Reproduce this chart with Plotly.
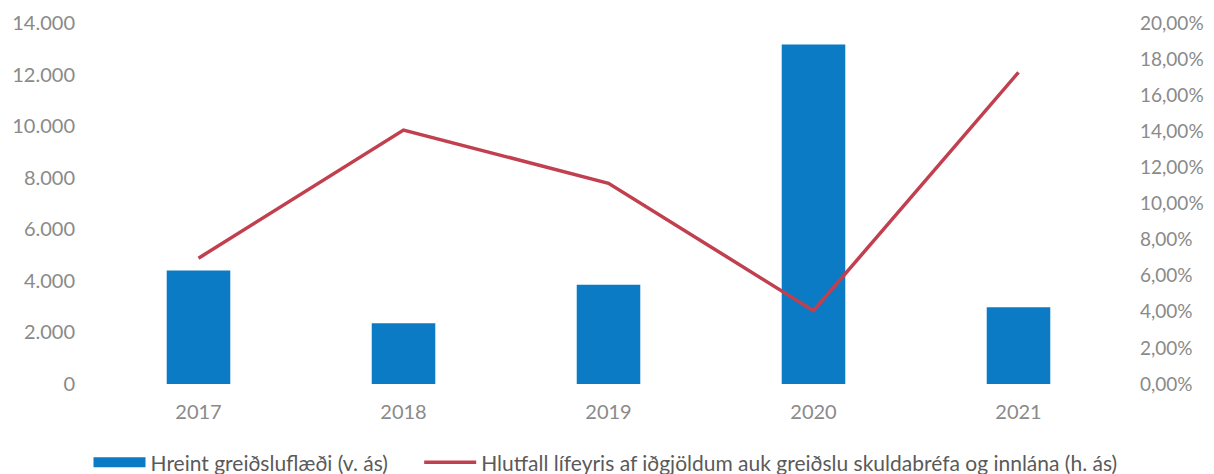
import plotly.graph_objects as go

years = ["2017", "2018", "2019", "2020", "2021"]
cashflow = [4400, 2360, 3850, 13170, 2980]
pension_ratio = [0.0697, 0.1407, 0.1112, 0.0406, 0.1727]

bar_name = "Hreint greiðsluflæði (v. ás)"
line_name = "Hlutfall lífeyris af iðgjöldum auk greiðslu skuldabréfa og innlána (h. ás)"

FONT = "Lato, Open Sans, sans-serif"
GRAY = "#8a8a8a"
LEG = "#5a5a5a"
BLUE = "#0A7BC4"
RED = "#C0404F"

fig = go.Figure()
fig.add_trace(go.Bar(x=years, y=cashflow, name=bar_name, marker=dict(color=BLUE, line=dict(width=0)),
                     yaxis="y", showlegend=False, legendgroup="bar"))
# legend entry for the bars drawn as a wide block (Excel style)
fig.add_trace(go.Scatter(x=[None], y=[None], name=bar_name, mode="lines", legendgroup="bar",
                         line=dict(color=BLUE, width=12), yaxis="y", hoverinfo="skip",
                         legend="legend"))
fig.add_trace(go.Scatter(x=years, y=pension_ratio, name=line_name, mode="lines",
                         line=dict(color=RED, width=3.5), yaxis="y2", legend="legend2"))

PW = 1026.0
leg_common = dict(orientation="h", y=-0.218, yanchor="middle", xanchor="left",
                  font=dict(size=21, color=LEG), itemwidth=52, bgcolor="rgba(0,0,0,0)")

fig.update_layout(
    width=1198, height=466,
    margin=dict(l=87.5, r=84.5, t=15, b=89.7, autoexpand=False),
    paper_bgcolor="white", plot_bgcolor="white",
    separators=",.",
    bargap=0.69,
    font=dict(family=FONT, size=20, color=GRAY),
    showlegend=True,
    legend=dict(x=(80 - 87.5) / PW, **leg_common),
    legend2=dict(x=(411 - 87.5) / PW, **leg_common),
    xaxis=dict(showgrid=False, showline=False, zeroline=False, ticks="",
               tickfont=dict(size=20, color=GRAY), ticklabelstandoff=14),
    yaxis=dict(range=[0, 14000], dtick=2000, tickformat=",d", showgrid=False, zeroline=False,
               showline=False, tickfont=dict(size=20, color=GRAY), ticklabelstandoff=20),
    yaxis2=dict(range=[0, 0.20], dtick=0.02, tickformat=".2%", overlaying="y", side="right",
                showgrid=False, zeroline=False, showline=False,
                tickfont=dict(size=19, color=GRAY), ticklabelstandoff=18),
)

fig.write_html("out.html")
